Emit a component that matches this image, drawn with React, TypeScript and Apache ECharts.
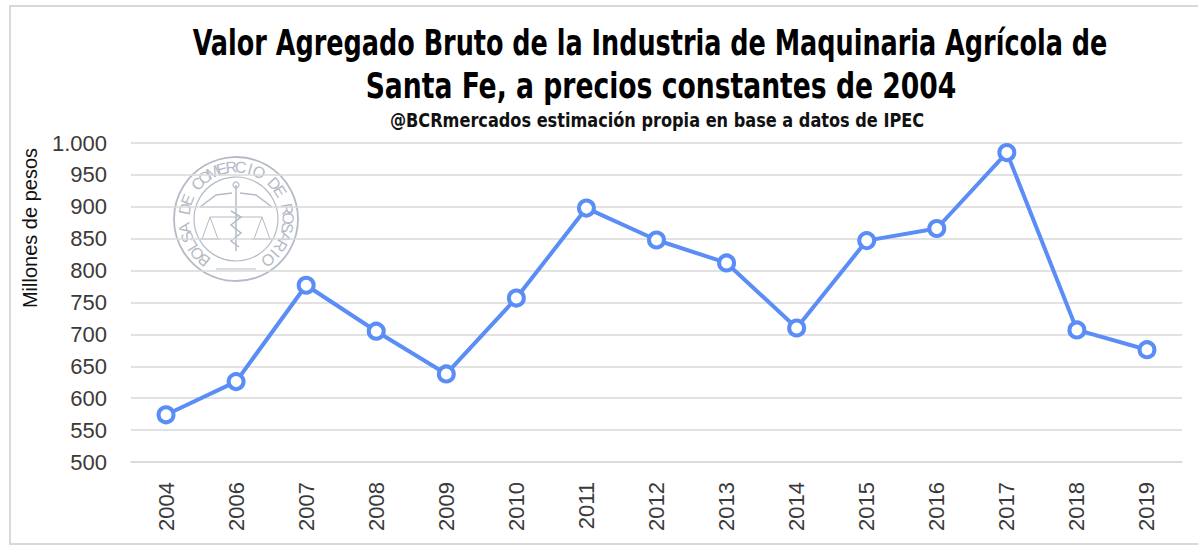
import React, { useEffect, useRef } from 'react';
import * as echarts from 'echarts';

const categories = ['2004', '2006', '2007', '2008', '2009', '2010', '2011', '2012', '2013', '2014', '2015', '2016', '2017', '2018', '2019'];
const values = [574, 626, 777, 705, 638, 757, 898, 848, 812, 710, 847, 866, 985, 707, 676];
const yMin = 500;
const yMax = 1000;
const yStep = 50;
const titleLine1 = 'Valor Agregado Bruto de la Industria de Maquinaria Agrícola de';
const titleLine2 = 'Santa Fe, a precios constantes de 2004';
const subtitle = '@BCRmercados estimación propia en base a datos de IPEC';
const yAxisName = 'Millones de pesos';
const sealText = 'BOLSA DE COMERCIO DE ROSARIO';

function fmt(v: number): string {
  const s = String(Math.round(v));
  return s.replace(/\B(?=(\d{3})+(?!\d))/g, '.');
}

function sealGraphics(cx: number, cy: number) {
  const col = '#B4BAC6';
  const els: any[] = [];
  els.push({ type: 'circle', shape: { cx, cy, r: 62 }, style: { fill: 'none', stroke: col, lineWidth: 1.8 }, silent: true });
  els.push({ type: 'circle', shape: { cx, cy, r: 42 }, style: { fill: 'none', stroke: col, lineWidth: 1.2 }, silent: true });
  const chars = sealText.split('');
  const start = 232;
  const end = -52;
  const R = 52;
  chars.forEach((ch, i) => {
    const deg = start + (end - start) * (i / (chars.length - 1));
    const rad = (deg * Math.PI) / 180;
    els.push({
      type: 'text',
      x: cx + R * Math.cos(rad),
      y: cy - R * Math.sin(rad),
      rotation: rad - Math.PI / 2,
      silent: true,
      style: { text: ch, fill: col, font: '16px "Liberation Sans", sans-serif', align: 'center', verticalAlign: 'middle' },
    });
  });
  // wings
  els.push({ type: 'polyline', shape: { points: [[cx - 36, cy - 12], [cx - 20, cy - 24], [cx - 4, cy - 26]] }, style: { stroke: col, lineWidth: 1.5, fill: 'none' }, silent: true });
  els.push({ type: 'polyline', shape: { points: [[cx + 36, cy - 12], [cx + 20, cy - 24], [cx + 4, cy - 26]] }, style: { stroke: col, lineWidth: 1.5, fill: 'none' }, silent: true });
  els.push({ type: 'line', shape: { x1: cx - 36, y1: cy - 12, x2: cx + 36, y2: cy - 12 }, style: { stroke: col, lineWidth: 1 }, silent: true });
  // staff
  els.push({ type: 'line', shape: { x1: cx, y1: cy - 34, x2: cx, y2: cy + 32 }, style: { stroke: col, lineWidth: 1.5 }, silent: true });
  els.push({ type: 'circle', shape: { cx, cy: cy - 34, r: 3 }, style: { fill: 'none', stroke: col, lineWidth: 1.2 }, silent: true });
  els.push({ type: 'polyline', shape: { points: [[cx - 5, cy - 8], [cx + 5, cy - 2], [cx - 5, cy + 6], [cx + 5, cy + 14], [cx - 5, cy + 22], [cx + 3, cy + 28]] }, style: { stroke: col, lineWidth: 1.5, fill: 'none' }, silent: true });
  // scales
  els.push({ type: 'line', shape: { x1: cx - 26, y1: cy - 2, x2: cx + 26, y2: cy - 2 }, style: { stroke: col, lineWidth: 1.2 }, silent: true });
  [-26, 26].forEach((dx) => {
    els.push({ type: 'polyline', shape: { points: [[cx + dx - 8, cy + 20], [cx + dx, cy - 2], [cx + dx + 8, cy + 20]] }, style: { stroke: col, lineWidth: 1, fill: 'none' }, silent: true });
    els.push({ type: 'line', shape: { x1: cx + dx - 10, y1: cy + 20, x2: cx + dx + 10, y2: cy + 20 }, style: { stroke: col, lineWidth: 1.5 }, silent: true });
  });
  els.push({ type: 'line', shape: { x1: cx - 20, y1: cy + 50, x2: cx + 20, y2: cy + 50 }, style: { stroke: col, lineWidth: 1.2 }, silent: true });
  return els;
}

export default function App() {
  const ref = useRef<HTMLDivElement>(null);
  useEffect(() => {
    if (!ref.current) return;
    const chart = echarts.init(ref.current, undefined, { renderer: 'svg' });
    const titleFont = '"DejaVu Sans Condensed", "Liberation Sans", sans-serif';
    chart.setOption({
      animation: false,
      backgroundColor: '#ffffff',
      grid: { left: 131, right: 16, top: 143, bottom: 83, containLabel: false },
      xAxis: {
        type: 'category',
        data: categories,
        boundaryGap: true,
        axisLine: { show: true, lineStyle: { color: '#D9D9D9', width: 1.5 } },
        axisTick: { show: false },
        axisLabel: { rotate: 90, margin: 20, fontSize: 22, color: '#3A3A3A', fontFamily: '"Liberation Sans", Arial, sans-serif' },
      },
      yAxis: {
        type: 'value',
        min: yMin,
        max: yMax,
        interval: yStep,
        axisLine: { show: false },
        axisTick: { show: false },
        splitLine: { lineStyle: { color: '#D9D9D9', width: 1.5 } },
        axisLabel: { formatter: (v: number) => fmt(v), margin: 24, fontSize: 22, color: '#3A3A3A', fontFamily: '"Liberation Sans", Arial, sans-serif' },
      },
      graphic: [
        { type: 'rect', shape: { x: 10, y: 6, width: 1200, height: 538 }, style: { fill: 'none', stroke: '#D9D9D9', lineWidth: 2 }, silent: true, z: -10 },
        ...sealGraphics(236, 219),
        { type: 'text', x: 650, y: 43, scaleX: 0.81, style: { text: titleLine1, font: `bold 35px ${titleFont}`, fill: '#000', align: 'center', verticalAlign: 'middle' } },
        { type: 'text', x: 661, y: 86, scaleX: 0.845, style: { text: titleLine2, font: `bold 35px ${titleFont}`, fill: '#000', align: 'center', verticalAlign: 'middle' } },
        { type: 'text', x: 657, y: 120, scaleX: 0.945, style: { text: subtitle, font: `bold 19px ${titleFont}`, fill: '#111', align: 'center', verticalAlign: 'middle' } },
        { type: 'text', x: 30, y: 228, rotation: Math.PI / 2, style: { text: yAxisName, font: '20px "Liberation Sans", Arial, sans-serif', fill: '#111', align: 'center', verticalAlign: 'middle' } },
      ],
      series: [
        {
          type: 'line',
          data: values,
          symbol: 'circle',
          symbolSize: 15,
          lineStyle: { color: '#5A8DF5', width: 4 },
          itemStyle: { color: '#ffffff', borderColor: '#5A8DF5', borderWidth: 4 },
          z: 5,
        },
      ],
    });
    return () => chart.dispose();
  }, []);
  return <div ref={ref} style={{ position: 'fixed', left: 0, top: 0, width: 1198, height: 545 }} />;
}
